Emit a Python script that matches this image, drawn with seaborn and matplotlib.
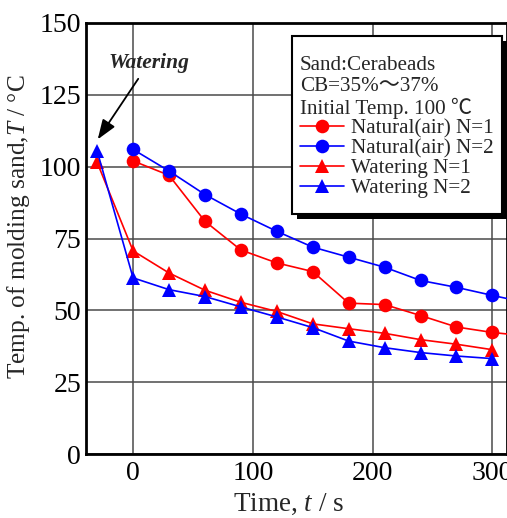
import matplotlib
matplotlib.use("Agg")
import matplotlib.pyplot as plt
import pandas as pd
import seaborn as sns
from matplotlib.patches import Rectangle

# Cooling curves of molding sand (Cerabeads), natural air cooling vs watering
time_air = [0, 30, 60, 90, 120, 150, 180, 210, 240, 270, 300, 330]
natural_n1 = [102, 97, 81, 71, 66.5, 63.5, 52.5, 52, 48.2, 44.2, 42.3, 41]
natural_n2 = [106, 98.5, 90.3, 83.5, 77.5, 72, 68.5, 65, 60.4, 58, 55.2, 52.5]

time_water = [-30, 0, 30, 60, 90, 120, 150, 180, 210, 240, 270, 300]
watering_n1 = [101.5, 70.7, 63, 57, 52.8, 49.6, 45.3, 43.6, 42, 39.8, 38.2, 36.3]
watering_n2 = [105.5, 61.3, 57.2, 54.8, 51.2, 47.7, 44, 39.3, 37, 35.3, 34.1, 33.2]

series_labels = ["Natural(air) N=1", "Natural(air) N=2", "Watering N=1", "Watering N=2"]
series_colors = ["#ff0000", "#0000ff", "#ff0000", "#0000ff"]
series_markers = ["o", "o", "^", "^"]

x_ticks = [0, 100, 200, 300]
y_ticks = [0, 25, 50, 75, 100, 125, 150]

legend_header = "Sand:Cerabeads\nCB=35%～37%\nInitial Temp. 100 ℃"

frames = []
for lab, t, v in zip(series_labels,
                     [time_air, time_air, time_water, time_water],
                     [natural_n1, natural_n2, watering_n1, watering_n2]):
    frames.append(pd.DataFrame({"time": t, "temp": v, "series": lab}))
df = pd.concat(frames, ignore_index=True)

sns.set_style("white")
serif = ["Liberation Serif", "Noto Sans CJK JP", "DejaVu Sans"]
plt.rcParams["font.family"] = serif
plt.rcParams["mathtext.fontset"] = "custom"
plt.rcParams["mathtext.rm"] = "Liberation Serif"
plt.rcParams["mathtext.it"] = "Liberation Serif:italic"

W, H = 507, 518
fig = plt.figure(figsize=(W / 100, H / 100), dpi=100)
ax = fig.add_axes([86 / W, 64 / H, 1 - 86 / W, 431 / H])

for lab, col, mk in zip(series_labels, series_colors, series_markers):
    sub = df[df["series"] == lab]
    sns.lineplot(data=sub, x="time", y="temp", ax=ax, color=col, marker=mk,
                 markersize=9.8 if mk == "o" else 10.2, markeredgewidth=0,
                 linewidth=1.2, label=lab, clip_on=True, zorder=3)

ax.set_xlim(-39.3, 312.2)
ax.set_ylim(0, 150)
ax.set_xticks(x_ticks)
ax.set_yticks(y_ticks)
ax.tick_params(axis="both", length=0, labelsize=20, colors="black")
ax.tick_params(axis="y", pad=3.5)
ax.tick_params(axis="x", pad=5)
ax.grid(True, color="#4a4a4a", linewidth=1.1)
ax.set_axisbelow(True)
for side in ["left", "bottom", "top", "right"]:
    ax.spines[side].set_color("black")
    ax.spines[side].set_linewidth(2)

ax.set_xlabel("Time, $t$ / s", fontsize=19.5)
ax.set_ylabel("Temp. of molding sand,$T$ / °C", fontsize=18.3)
ax.xaxis.set_label_coords(0.48, -0.088)
ax.yaxis.set_label_coords(-0.128, 0.528)

ax.annotate("Watering", xy=(-29.5, 109.5), xytext=(13, 136),
            fontsize=15.5, fontweight="bold", fontstyle="italic",
            ha="center", va="center",
            arrowprops=dict(arrowstyle="-|>,head_length=0.6,head_width=0.22",
                            color="black", lw=1.3,
                            mutation_scale=20, shrinkA=2, shrinkB=0))

ax.get_legend().remove()
handles, labels = ax.get_legend_handles_labels()
leg = fig.legend(handles, labels, title=legend_header, loc="upper left",
                 bbox_to_anchor=(300 / W, 1 - 56 / H),
                 bbox_transform=fig.transFigure,
                 prop={"family": serif, "size": 15.2},
                 title_fontproperties={"family": serif, "size": 15.2},
                 alignment="left", frameon=False, handlelength=2.1,
                 handletextpad=0.3, labelspacing=0.0, borderpad=0,
                 borderaxespad=0)
leg.get_title().set_linespacing(1.12)
leg.set_zorder(6)

# Boxed legend panel with a hard black drop shadow
box_x0, box_x1, box_top, box_bottom = 292, 502, 36, 214
panel = Rectangle((box_x0, H - box_bottom), box_x1 - box_x0, box_bottom - box_top,
                  transform=None, facecolor="white", edgecolor="black",
                  linewidth=1.5, zorder=5)
shadow = Rectangle((box_x0 + 5, H - box_bottom - 5), box_x1 - box_x0, box_bottom - box_top,
                   transform=None, facecolor="black", edgecolor="none", zorder=4)
fig.add_artist(shadow)
fig.add_artist(panel)

fig.savefig("out.png", dpi=100)
